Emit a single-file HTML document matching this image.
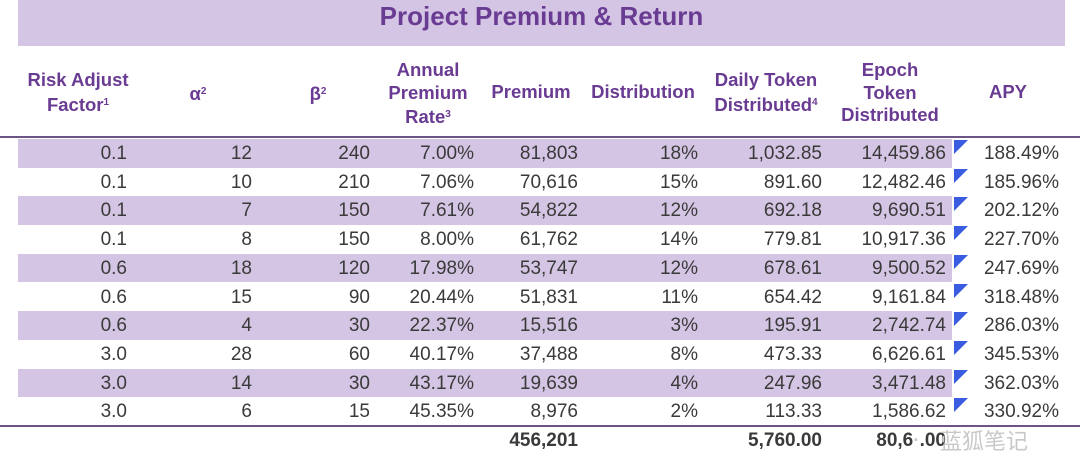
<!DOCTYPE html>
<html><head><meta charset="utf-8"><style>
body{margin:0;width:1080px;height:467px;background:#fff;position:relative;overflow:hidden;font-family:"Liberation Sans",Arial,sans-serif}
.band{position:absolute;left:18px;top:0;width:1047px;height:46px;background:#d3c5e3}
.title{position:absolute;left:18px;width:1047px;top:1px;text-align:center;font-weight:bold;font-size:26px;color:#6a3b92}
.h{position:absolute;color:#6a3b92;font-weight:bold;font-size:18.5px;line-height:22.5px;text-align:center}
.h sup{font-size:10px;vertical-align:6px}
.line{position:absolute;left:0;width:1080px;height:1.5px;background:#6c5486}
.row{position:absolute;left:18px;width:934px;height:28.7px}
.row.s{background:#d3c5e3}
.c{position:absolute;font-size:19px;color:#3a3a3a;text-align:right;line-height:29px}
.tri{position:absolute;width:0;height:0;border-top:14px solid #3a5ce0;border-right:14px solid transparent}
.b{font-weight:bold}
</style></head><body>
<div class="band"></div><div class="title">Project Premium &amp; Return</div>
<div class="h" style="left:8px;width:140px;top:69px">Risk Adjust<br>Factor<sup>1</sup></div>
<div class="h" style="left:158px;width:80px;top:81px">α<sup>2</sup></div>
<div class="h" style="left:278px;width:80px;top:81px">β<sup>2</sup></div>
<div class="h" style="left:378px;width:100px;top:59px">Annual<br>Premium<br>Rate<sup>3</sup></div>
<div class="h" style="left:481px;width:100px;top:81px">Premium</div>
<div class="h" style="left:583px;width:120px;top:81px">Distribution</div>
<div class="h" style="left:706px;width:120px;top:69px">Daily Token<br>Distributed<sup>4</sup></div>
<div class="h" style="left:830px;width:120px;top:59px">Epoch<br>Token<br>Distributed</div>
<div class="h" style="left:958px;width:100px;top:81px">APY</div>
<div class="line" style="top:136px"></div>
<div class="line" style="top:425px"></div>
<div id="rows"></div>
<script>
var d=[["0.1","12","240","7.00%","81,803","18%","1,032.85","14,459.86","188.49%"],
["0.1","10","210","7.06%","70,616","15%","891.60","12,482.46","185.96%"],
["0.1","7","150","7.61%","54,822","12%","692.18","9,690.51","202.12%"],
["0.1","8","150","8.00%","61,762","14%","779.81","10,917.36","227.70%"],
["0.6","18","120","17.98%","53,747","12%","678.61","9,500.52","247.69%"],
["0.6","15","90","20.44%","51,831","11%","654.42","9,161.84","318.48%"],
["0.6","4","30","22.37%","15,516","3%","195.91","2,742.74","286.03%"],
["3.0","28","60","40.17%","37,488","8%","473.33","6,626.61","345.53%"],
["3.0","14","30","43.17%","19,639","4%","247.96","3,471.48","362.03%"],
["3.0","6","15","45.35%","8,976","2%","113.33","1,586.62","330.92%"]];
var R=[127,252,370,474,578,698,822,946,1059],h="";
d.forEach(function(r,i){var y=139+i*28.7;
if(i%2==0)h+='<div class="row s" style="top:'+y+'px"></div>';
r.forEach(function(v,j){h+='<div class="c" style="right:'+(1080-R[j])+'px;top:'+y+'px">'+v+'</div>'});
h+='<div class="tri" style="left:954px;top:'+(y+1)+'px"></div>';});
h+='<div class="c b" style="right:502px;top:426px">456,201</div>';
h+='<div class="c b" style="right:258px;top:426px">5,760.00</div>';
h+='<div class="c b" style="right:134px;top:426px">80,6<span style="color:#ccc">·</span>.00</div>';
h+='<div class="c" style="left:940px;top:426px;color:#c8c8c8;font-family:\'Noto Sans CJK SC\',sans-serif;font-size:22px">蓝狐笔记</div>';
document.getElementById("rows").innerHTML=h;
</script>
</body></html>
